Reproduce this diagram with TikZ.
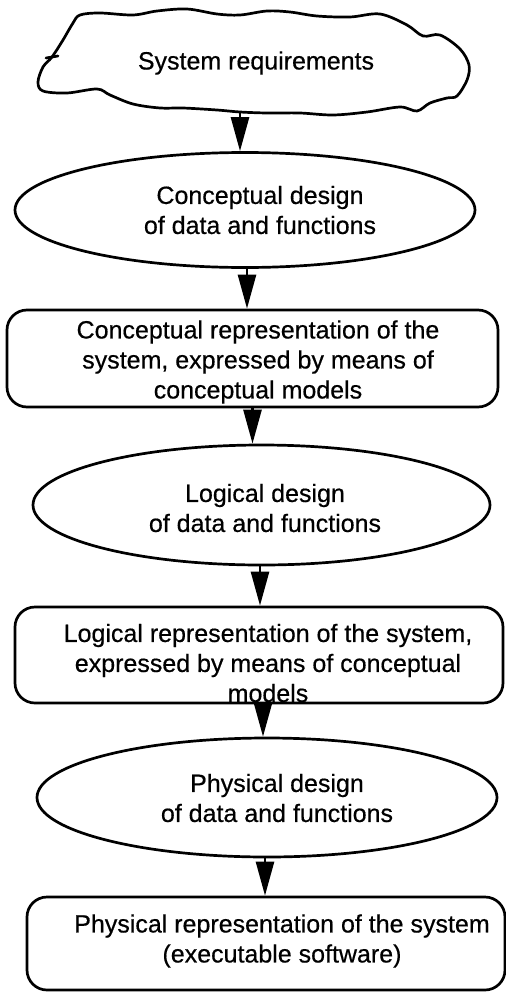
\documentclass[tikz,border=0pt]{standalone}
\usepackage{fontspec}
\setmainfont{Liberation Sans}
\newfontfamily\labelfont[FakeBold=0.5]{Liberation Sans}
\usetikzlibrary{arrows.meta,shapes.geometric}
\begin{document}
\begin{tikzpicture}[x=1pt,y=1pt,
  outline/.style={draw=black, line width=2.7pt},
  txt/.style={font=\labelfont\fontsize{25}{30}\selectfont, align=center, inner sep=0pt},
  ell/.style={outline, ellipse, inner sep=0pt},
  box/.style={outline, rectangle, rounded corners=20pt, inner sep=0pt},
  arr/.style={line width=2.6pt, -{Triangle[length=34pt,width=18pt]}}
]
\useasboundingbox (0,0) rectangle (506,-996);

% hand-drawn cloud around the requirements
\draw[outline, line join=round] plot[smooth cycle, tension=0.55] coordinates {
  (80,-15) (100,-13) (133,-15) (157,-11) (187,-9) (217,-14) (240,-15)
  (267,-11) (290,-12) (317,-16) (350,-17) (380,-14) (407,-25) (423,-36)
  (440,-35) (460,-49) (469,-65) (467,-80) (457,-96) (447,-98) (430,-103)
  (417,-111) (400,-107) (367,-112) (333,-115) (300,-113) (267,-113)
  (240,-112) (217,-110) (183,-108) (160,-108) (133,-104) (110,-95)
  (97,-89) (67,-93) (43,-91) (38,-82) (43,-67) (52,-57) (63,-40) (73,-23)};
\draw[outline, line cap=round] (46,-58) -- (58,-56);
\node[txt] (req) at (256,-63) {System requirements};
\coordinate (cb) at (240,-112);

% conceptual level
\node[ell, minimum width=460pt, minimum height=115pt] (e1) at (245,-210) {};
\node[txt] (t1) at (260,-210) {Conceptual design\\of data and functions};
\node[box, minimum width=491pt, minimum height=97pt] (b1) at (252.5,-358.5) {};
\node[txt] (t2) at (258,-362) {Conceptual representation of the\\system, expressed by means of\\conceptual models};

% logical level
\node[ell, minimum width=457pt, minimum height=120pt] (e2) at (261.5,-505) {};
\node[txt] (t3) at (265,-508) {Logical design\\of data and functions};
\node[box, minimum width=488pt, minimum height=96pt] (b2) at (259,-655) {};
\node[txt] (t4) at (268,-663) {Logical representation of the system,\\expressed by means of conceptual\\models};

% physical level
\node[ell, minimum width=460pt, minimum height=119pt] (e3) at (267,-797.5) {};
\node[txt] (t5) at (277,-798) {Physical design\\of data and functions};
\node[box, minimum width=478pt, minimum height=93pt] (b3) at (266,-943.5) {};
\node[txt] (t6) at (282,-941) {Physical representation of the system\\(executable software)};

% flow arrows
\draw[arr] (cb) -- (cb |- e1.north);
\draw[arr] ([xshift=2pt]e1.south) -- ([xshift=2pt]e1.south |- b1.north);
\draw[arr] (b1.south) -- (b1.south |- e2.north);
\draw[arr] ([xshift=-1.5pt]e2.south) -- ([xshift=-1.5pt]e2.south |- b2.north);
\draw[arr] ([xshift=4pt]b2.south) -- ([xshift=4pt]b2.south |- e3.north);
\draw[arr] ([xshift=-2pt]e3.south) -- ([xshift=-2pt]e3.south |- b3.north);
\end{tikzpicture}
\end{document}
